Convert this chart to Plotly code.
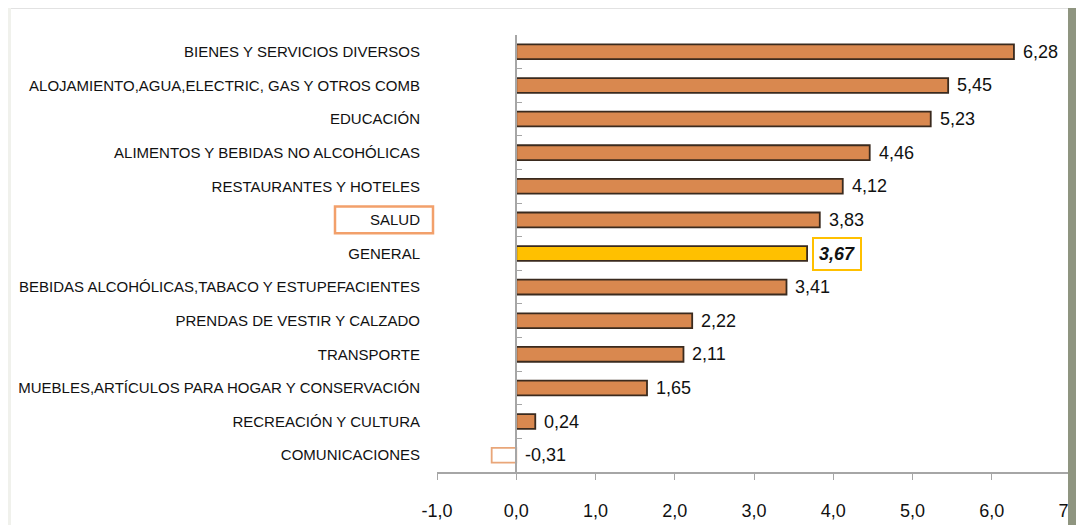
import plotly.graph_objects as go

# Data (top to bottom as shown)
categories = [
    "BIENES Y SERVICIOS DIVERSOS",
    "ALOJAMIENTO,AGUA,ELECTRIC, GAS Y OTROS COMB",
    "EDUCACIÓN",
    "ALIMENTOS Y BEBIDAS NO ALCOHÓLICAS",
    "RESTAURANTES Y HOTELES",
    "SALUD",
    "GENERAL",
    "BEBIDAS ALCOHÓLICAS,TABACO Y ESTUPEFACIENTES",
    "PRENDAS DE VESTIR Y CALZADO",
    "TRANSPORTE",
    "MUEBLES,ARTÍCULOS PARA HOGAR Y CONSERVACIÓN",
    "RECREACIÓN Y CULTURA",
    "COMUNICACIONES",
]
values = [6.28, 5.45, 5.23, 4.46, 4.12, 3.83, 3.67, 3.41, 2.22, 2.11, 1.65, 0.24, -0.31]
x_ticks = [-1, 0, 1, 2, 3, 4, 5, 6, 7]

highlight = "GENERAL"
boxed = "SALUD"

# the page body has an 8px margin, so figure pixels = page pixels - 8
OFF = 8
W, H = 1084, 525
ML, MR, MT, MB = 437 - OFF, W - (1071 - OFF), 35 - OFF, H - (472 - OFF)
PW, PH = W - ML - MR, H - MT - MB

FONT = "Liberation Sans, Arial, sans-serif"
ORANGE = "#D9884F"
DARK = "#3A2A1E"
GOLD = "#FFC000"


def px_x(px):
    return (px - OFF - ML) / PW


def px_y(py):
    return 1 - (py - OFF - MT) / PH


def comma(v, nd):
    return f"{v:.{nd}f}".replace(".", ",")


fill = []
edge = []
for c, v in zip(categories, values):
    if c == highlight:
        fill.append(GOLD)
        edge.append(DARK)
    elif v < 0:
        fill.append("white")
        edge.append("#E9A679")
    else:
        fill.append(ORANGE)
        edge.append(DARK)

fig = go.Figure()
fig.add_trace(
    go.Bar(
        x=values,
        y=categories,
        orientation="h",
        width=0.44,
        marker=dict(color=fill, line=dict(color=edge, width=1.8)),
        hoverinfo="x+y",
    )
)
# invisible trace to carry the zero-line axis
fig.add_trace(
    go.Scatter(
        x=values, y=categories, yaxis="y2", mode="markers",
        marker=dict(opacity=0), hoverinfo="skip", showlegend=False,
    )
)

annotations = []
for c, v in zip(categories, values):
    txt = comma(v, 2)
    if c == highlight:
        annotations.append(dict(
            x=max(v, 0), y=c, xref="x", yref="y", xanchor="left", xshift=5,
            text=f"<b><i>{txt}</i></b>", showarrow=False,
            font=dict(family=FONT, size=18, color="#111111"),
            bordercolor=GOLD, borderwidth=2, borderpad=5, bgcolor="white",
        ))
    else:
        annotations.append(dict(
            x=max(v, 0), y=c, xref="x", yref="y", xanchor="left", xshift=7,
            text=txt, showarrow=False,
            font=dict(family=FONT, size=18, color="#111111"),
        ))

n = len(categories)
bi = categories.index(boxed)
shapes = [
    # box around the SALUD label
    dict(type="rect", xref="paper", yref="y", x0=px_x(335), x1=px_x(433),
         y0=bi - 0.4, y1=bi + 0.4, line=dict(color="#F2A06B", width=2.5)),
    # page frame (screenshot border)
    dict(type="rect", xref="paper", yref="paper", x0=px_x(0), x1=px_x(1084),
         y0=px_y(9), y1=px_y(0), fillcolor="#E2E2E2", line=dict(width=0), layer="above"),
    dict(type="rect", xref="paper", yref="paper", x0=px_x(0), x1=px_x(11),
         y0=px_y(540), y1=px_y(0), fillcolor="#F0F1EC", line=dict(width=0), layer="above"),
    dict(type="rect", xref="paper", yref="paper", x0=px_x(1068), x1=px_x(1100),
         y0=px_y(540), y1=px_y(0), fillcolor="#8F9580", line=dict(width=0), layer="above"),
]

fig.update_layout(
    width=W, height=H,
    margin=dict(l=ML, r=MR, t=MT, b=MB, autoexpand=False),
    paper_bgcolor="white", plot_bgcolor="white",
    showlegend=False,
    font=dict(family=FONT, size=15, color="#111111"),
    xaxis=dict(
        range=[-1, 7], tickvals=x_ticks, ticktext=[comma(t, 1) for t in x_ticks],
        automargin=False,
        showgrid=False, zeroline=False,
        showline=True, linecolor="#A6A6A6", linewidth=1.5,
        ticks="outside", ticklen=6, tickcolor="#A6A6A6",
        ticklabelstandoff=16,
        tickfont=dict(family=FONT, size=18, color="#111111"),
    ),
    yaxis=dict(
        type="category", range=[n - 0.5, -0.5], automargin=False,
        showgrid=False, showline=False, ticks="",
        ticklabelstandoff=16,
        tickfont=dict(family=FONT, size=15, color="#111111"),
    ),
    yaxis2=dict(
        type="category", overlaying="y", matches="y",
        anchor="free", position=px_x(516), automargin=False,
        showgrid=False, showticklabels=False,
        showline=True, linecolor="#A6A6A6", linewidth=1.5,
        ticks="inside", tickson="boundaries", ticklen=5, tickcolor="#A6A6A6",
    ),
    annotations=annotations,
    shapes=shapes,
)

fig.write_html("out.html")
